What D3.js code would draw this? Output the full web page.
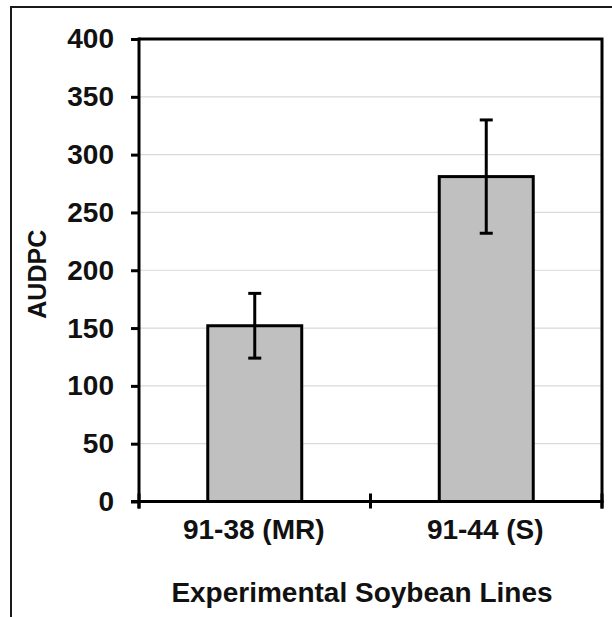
<!DOCTYPE html>
<html>
<head>
<meta charset="utf-8">
<script src="https://cdn.jsdelivr.net/npm/d3@7"></script>
<style>
  html, body { margin: 0; padding: 0; background: #fff; }
  svg { display: block; }
  text { font-family: "Liberation Sans", Arial, sans-serif; font-weight: bold; fill: #111; }
</style>
</head>
<body>
<svg id="chart" width="612" height="617"></svg>
<script>
// AUDPC per soybean line, with error bar half-widths
const categories = ["91-38 (MR)", "91-44 (S)"];
const audpc = [152, 281];
const errors = [28, 49];
const yTicks = [0, 50, 100, 150, 200, 250, 300, 350, 400];
const yTitle = "AUDPC";
const xTitle = "Experimental Soybean Lines";

const svg = d3.select("#chart");
const plot = { left: 139, right: 602, top: 39, bottom: 501.5 };

const y = d3.scaleLinear().domain([0, 400]).range([plot.bottom, plot.top]);
const x = d3.scaleBand()
  .domain(categories)
  .range([plot.left, plot.right])
  .paddingInner(0.594)
  .paddingOuter(0.297);

// outer frame (left and top edges)
svg.append("path")
  .attr("d", "M11,617 L11,7 L612,7")
  .attr("fill", "none")
  .attr("stroke", "#1a1a1a")
  .attr("stroke-width", 2);

// horizontal gridlines
svg.append("g")
  .selectAll("line")
  .data(yTicks.filter(t => t > 0 && t < 400))
  .join("line")
  .attr("x1", plot.left).attr("x2", plot.right)
  .attr("y1", d => y(d)).attr("y2", d => y(d))
  .attr("stroke", "#d9d9d9")
  .attr("stroke-width", 1.2);

// bars
svg.append("g")
  .selectAll("rect")
  .data(categories)
  .join("rect")
  .attr("x", d => x(d))
  .attr("y", (d, i) => y(audpc[i]))
  .attr("width", x.bandwidth())
  .attr("height", (d, i) => y(0) - y(audpc[i]))
  .attr("fill", "#c0c0c0")
  .attr("stroke", "#000")
  .attr("stroke-width", 3);

// error bars
const eb = svg.append("g").attr("stroke", "#000").attr("stroke-width", 3);
categories.forEach((c, i) => {
  const cx = x(c) + x.bandwidth() / 2;
  const hi = y(audpc[i] + errors[i]);
  const lo = y(audpc[i] - errors[i]);
  eb.append("line").attr("x1", cx).attr("x2", cx).attr("y1", hi).attr("y2", lo);
  eb.append("line").attr("x1", cx - 6.5).attr("x2", cx + 6.5).attr("y1", hi).attr("y2", hi);
  eb.append("line").attr("x1", cx - 6.5).attr("x2", cx + 6.5).attr("y1", lo).attr("y2", lo);
});

// plot border (top and right)
svg.append("path")
  .attr("d", `M${plot.left},${plot.top} L${plot.right},${plot.top} L${plot.right},${plot.bottom + 7}`)
  .attr("fill", "none")
  .attr("stroke", "#000")
  .attr("stroke-width", 3);

// y axis
const yAxis = svg.append("g")
  .attr("transform", `translate(${plot.left},0)`)
  .call(d3.axisLeft(y).tickValues(yTicks).tickSize(8).tickSizeOuter(0).tickPadding(17));
yAxis.select(".domain").remove();
yAxis.selectAll(".tick line").attr("stroke", "#000").attr("stroke-width", 3);
yAxis.selectAll(".tick text")
  .style("font-family", "'Liberation Sans', Arial, sans-serif")
  .style("font-weight", "bold")
  .style("font-size", "28px")
  .attr("fill", "#111");
svg.append("line")
  .attr("x1", plot.left).attr("x2", plot.left)
  .attr("y1", plot.top - 1.5).attr("y2", plot.bottom + 7)
  .attr("stroke", "#000").attr("stroke-width", 3);

// x axis baseline and category boundary ticks
svg.append("line")
  .attr("x1", plot.left - 8).attr("x2", plot.right + 1.5)
  .attr("y1", y(0)).attr("y2", y(0))
  .attr("stroke", "#000").attr("stroke-width", 3);
const bounds = d3.range(categories.length + 1).map(i => plot.left + i * x.step());
svg.append("g")
  .selectAll("line")
  .data(bounds)
  .join("line")
  .attr("x1", d => d).attr("x2", d => d)
  .attr("y1", y(0) - 8).attr("y2", y(0) + 7)
  .attr("stroke", "#000").attr("stroke-width", 3);

// category labels
svg.append("g")
  .selectAll("text")
  .data(categories)
  .join("text")
  .attr("x", d => x(d) + x.bandwidth() / 2 - 1)
  .attr("y", 539)
  .attr("text-anchor", "middle")
  .style("font-size", "28px")
  .text(d => d);

// axis titles
svg.append("text")
  .attr("x", 362)
  .attr("y", 602)
  .attr("text-anchor", "middle")
  .style("font-size", "28px")
  .text(xTitle);

svg.append("text")
  .attr("transform", `translate(46,${(plot.top + plot.bottom) / 2 + 4}) rotate(-90)`)
  .attr("text-anchor", "middle")
  .style("font-size", "25px")
  .text(yTitle);
</script>
</body>
</html>
